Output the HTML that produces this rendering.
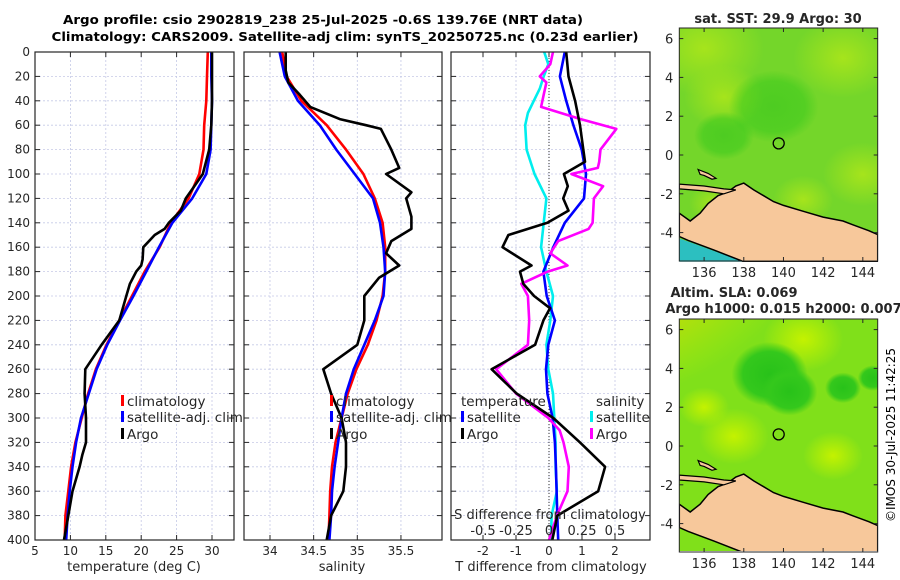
<!DOCTYPE html>
<html><head><meta charset="utf-8">
<style>
body{margin:0;background:#fff;}
svg{display:block;font-family:"DejaVu Sans","Liberation Sans",sans-serif;}
</style></head>
<body>
<svg id="fig" width="900" height="580" viewBox="0 0 900 580" xmlns="http://www.w3.org/2000/svg">
<defs>
<radialGradient id="orangeCorner" cx="0" cy="0" r="1">
<stop offset="0" stop-color="#f5a200"/><stop offset="0.45" stop-color="#f0d000"/><stop offset="1" stop-color="#c8f000" stop-opacity="0"/>
</radialGradient>
<radialGradient id="darkBlob" cx="0.5" cy="0.5" r="0.5">
<stop offset="0" stop-color="#28c21a"/><stop offset="0.7" stop-color="#34c81c"/><stop offset="1" stop-color="#34c81c" stop-opacity="0"/>
</radialGradient>
<radialGradient id="yellowBlob" cx="0.5" cy="0.5" r="0.5">
<stop offset="0" stop-color="#c4f200"/><stop offset="1" stop-color="#c4f200" stop-opacity="0"/>
</radialGradient>
<radialGradient id="lightBlob" cx="0.5" cy="0.5" r="0.5">
<stop offset="0" stop-color="#a6e41c"/><stop offset="1" stop-color="#a6e41c" stop-opacity="0"/>
</radialGradient>
<clipPath id="clipTop"><rect x="679" y="28" width="199" height="234"/></clipPath>
<clipPath id="clipBot"><rect x="679" y="319" width="199" height="232"/></clipPath>
</defs>
<g font-weight="bold" font-size="12.5" text-anchor="middle">
<text x="323" y="24" textLength="520" lengthAdjust="spacingAndGlyphs">Argo profile: csio 2902819_238 25-Jul-2025 -0.6S 139.76E (NRT data)</text>
<text x="345" y="41" textLength="587" lengthAdjust="spacingAndGlyphs">Climatology: CARS2009. Satellite-adj clim: synTS_20250725.nc (0.23d earlier)</text>
</g>
<g id="panels"></g>
<g id="maps"></g>
<text transform="translate(895,435) rotate(-90)" text-anchor="middle" font-size="12">©IMOS 30-Jul-2025 11:42:25</text>
</svg>
<script>
// ---- data (depth levels in m) ----
const depthT = [0,20,40,60,80,100,120,140,160,180,200,220,240,260,280,300,320,340,360,380,400];
const tempClim = [29.4,29.3,29.2,28.9,28.8,28.2,26.7,24.2,22.6,20.5,18.7,16.9,15.1,13.6,12.5,11.6,10.7,10.1,9.7,9.3,9.2];
const tempSat = [29.9,29.9,30.0,29.9,29.8,29.2,27.2,24.4,22.5,20.7,18.9,17.0,15.2,13.7,12.6,11.5,10.8,10.3,9.9,9.6,9.4];
const depthTArgo = [0,20,40,60,80,100,110,120,130,140,145,150,160,170,175,180,190,200,220,240,260,280,300,320,330,340,360,380,400];
const tempArgo = [30.0,30.0,30.0,29.9,29.6,28.7,27.5,26.3,25.6,23.9,23.3,21.9,20.3,20.2,20.0,19.3,18.4,17.9,16.9,14.4,12.1,12.0,12.2,12.2,11.7,11.3,10.3,9.7,9.1];
const salClim = [34.14,34.19,34.36,34.65,34.87,35.07,35.20,35.29,35.32,35.32,35.29,35.22,35.12,34.99,34.89,34.82,34.75,34.71,34.69,34.68,34.67];
const salSat = [34.11,34.17,34.32,34.57,34.76,34.97,35.18,35.26,35.30,35.32,35.30,35.20,35.08,34.96,34.87,34.82,34.78,34.74,34.71,34.70,34.68];
const depthSArgo = [0,15,25,35,45,55,60,63,80,95,100,115,120,135,145,155,165,175,185,200,220,240,260,280,300,320,340,360,380,400];
const salArgo = [34.18,34.18,34.21,34.34,34.46,34.80,35.10,35.27,35.39,35.48,35.33,35.62,35.56,35.62,35.62,35.39,35.33,35.48,35.25,35.08,35.08,35.00,34.61,34.70,34.82,34.87,34.87,34.84,34.70,34.65];
const dTSat = [0.48,0.33,0.52,0.74,0.99,1.12,1.06,0.48,0.13,-0.17,-0.07,0.18,-0.02,-0.09,-0.05,0.11,0.18,0.21,0.23,0.25,0.28];
const depthDTArgo = [0,20,40,60,80,90,100,110,120,130,140,150,160,175,180,190,200,210,220,240,260,280,300,320,340,360,380,400];
const dTArgo = [0.52,0.59,0.79,0.94,1.04,1.09,0.45,0.57,0.43,0.59,-0.05,-1.23,-1.41,-0.53,-0.88,-0.78,-0.45,0.03,-0.17,-0.42,-1.74,-0.98,0.13,0.94,1.70,1.49,0.25,0.10];
const depthDSSat = [0,10,20,30,40,50,60,80,100,120,140,160,180,200,220,240,260,280,300,320,340,360,380,400];
const dSSat = [-0.036,-0.005,-0.04,-0.07,-0.115,-0.16,-0.18,-0.17,-0.11,-0.02,-0.04,-0.06,-0.02,0.03,0.01,-0.02,-0.005,0.03,0.04,0.05,0.05,0.06,0.02,0.015];
const depthDSArgo = [0,10,20,25,35,45,55,63,80,90,95,100,110,120,140,145,155,165,175,180,190,200,220,240,260,280,300,310,320,340,360,380,400];
const dSArgo = [0.03,0.01,-0.07,-0.02,-0.04,-0.06,0.24,0.51,0.39,0.38,0.37,0.17,0.41,0.34,0.33,0.30,0.07,0.01,0.14,-0.01,-0.21,-0.16,-0.15,-0.16,-0.40,-0.25,-0.005,0.08,0.11,0.15,0.14,0.06,0.0];
const depthTicks = [0,20,40,60,80,100,120,140,160,180,200,220,240,260,280,300,320,340,360,380,400];
const tempTicks = [5,10,15,20,25,30];
const salTicks = [34,34.5,35,35.5];
const dTTicks = [-2,-1,0,1,2];
const dSTicks = [-0.5,-0.25,0,0.25,0.5];
const dSTickLabels = ['-0.5','-0.25','0','0.25','0.5'];
const argoLon = 139.76, argoLat = 0.6;
const lonTicks = [136,138,140,142,144];
const latTicks = [6,4,2,0,-2,-4];

const NS='http://www.w3.org/2000/svg';
function el(tag, attrs, parent){const e=document.createElementNS(NS,tag);for(const k in attrs)e.setAttribute(k,attrs[k]);parent.appendChild(e);return e;}
const Y0=52, Y1=540;
const yScale = d => Y0 + d/400*(Y1-Y0);
function mk(x0,x1,v0,v1){return v=>x0+(v-v0)/(v1-v0)*(x1-x0);}
const panels=document.getElementById('panels');

function panel(name,x0,x1,xs,ticks,ylabels){
  const g=el('g',{},panels);
  
  
  const grid=el('g',{stroke:'#c5c9e6','stroke-width':0.8,'stroke-dasharray':'2,2'},g);
  depthTicks.forEach(d=>{el('line',{x1:x0,x2:x1,y1:yScale(d),y2:yScale(d)},grid);});
  ticks.forEach(t=>{el('line',{x1:xs(t),x2:xs(t),y1:Y0,y2:Y1},grid);});
  const tk=el('g',{stroke:'#262626','stroke-width':1},g);
  depthTicks.forEach(d=>{el('line',{x1:x0,x2:x0+5,y1:yScale(d),y2:yScale(d)},tk);el('line',{x1:x1-5,x2:x1,y1:yScale(d),y2:yScale(d)},tk);});
  ticks.forEach(t=>{el('line',{x1:xs(t),x2:xs(t),y1:Y1,y2:Y1-5},tk);el('line',{x1:xs(t),x2:xs(t),y1:Y0,y2:Y0+5},tk);});
  if(ylabels){
    depthTicks.forEach(d=>{const t=el('text',{x:x0-5,y:yScale(d)+4,'text-anchor':'end','font-size':12,fill:'#262626'},g);t.textContent=d;
    
    });
  }
  return g;
}
function line(g,name,xs,xv,dv,color){
  const p=el('polyline',{points:xv.map((v,i)=>xs(v).toFixed(1)+','+yScale(dv[i]).toFixed(1)).join(' '),fill:'none',stroke:color,'stroke-width':2.6,'stroke-linejoin':'round'},g);
  
  
}
function txt(g,name,x,y,s,opts){const t=el('text',Object.assign({x:x,y:y,'font-size':12,fill:'#262626'},opts||{}),g);t.textContent=s;
  
  return t;}
function frame(g,x0,x1){el('rect',{x:x0,y:Y0,width:x1-x0,height:Y1-Y0,fill:'none',stroke:'#262626','stroke-width':1.2},g);}
function legendItem(g,name,x,y,color,label){
  const r=el('rect',{x:x,y:y-11,width:3,height:11,fill:color},g);
  
  
  txt(g,name,x+6,y,label,{'font-size':13.5});
}

// Panel 1 temperature
const xT=mk(35,212,5,30);
const g1=panel('temperature-panel',35,234,xT,tempTicks,true);
line(g1,'temp-climatology-line',xT,tempClim,depthT,'#ff0000');
line(g1,'temp-satellite-line',xT,tempSat,depthT,'#0000ff');
line(g1,'temp-argo-line',xT,tempArgo,depthTArgo,'#000000');
frame(g1,35,234);
tempTicks.forEach(t=>txt(g1,'temp-tick-label',xT(t),555,t,{'text-anchor':'middle'}));
txt(g1,'temp-axis-title',134,571,'temperature (deg C)',{'text-anchor':'middle','font-size':13});
legendItem(g1,'legend-climatology',121,406,'#ff0000','climatology');
legendItem(g1,'legend-satellite-adj',121,422,'#0000ff','satellite-adj. clim');
legendItem(g1,'legend-argo',121,439,'#000000','Argo');

// Panel 2 salinity
const xS=mk(270,357.3,34,35);
const g2=panel('salinity-panel',244,442,xS,salTicks,false);
line(g2,'sal-climatology-line',xS,salClim,depthT,'#ff0000');
line(g2,'sal-satellite-line',xS,salSat,depthT,'#0000ff');
line(g2,'sal-argo-line',xS,salArgo,depthSArgo,'#000000');
frame(g2,244,442);
salTicks.forEach(t=>txt(g2,'sal-tick-label',xS(t),555,t,{'text-anchor':'middle'}));
txt(g2,'sal-axis-title',342,571,'salinity',{'text-anchor':'middle','font-size':13});
legendItem(g2,'legend-climatology',330,406,'#ff0000','climatology');
legendItem(g2,'legend-satellite-adj',330,422,'#0000ff','satellite-adj. clim');
legendItem(g2,'legend-argo',330,439,'#000000','Argo');

// Panel 3 differences
const xD=mk(483,549,-2,0);
const xDS=v=>xD(v*4);
const g3=panel('difference-panel',451,650,xD,dTTicks,false);
el('line',{x1:xD(0),x2:xD(0),y1:Y0,y2:Y1,stroke:'#333','stroke-width':1,'stroke-dasharray':'1,2'},g3);
line(g3,'dS-satellite-line',xDS,dSSat,depthDSSat,'#00eeee');
line(g3,'dT-satellite-line',xD,dTSat,depthT,'#0000ff');
line(g3,'dS-argo-line',xDS,dSArgo,depthDSArgo,'#ff00ff');
line(g3,'dT-argo-line',xD,dTArgo,depthDTArgo,'#000000');
frame(g3,451,650);
dTTicks.forEach(t=>txt(g3,'dT-tick-label',xD(t),555,t,{'text-anchor':'middle'}));
txt(g3,'dT-axis-title',551,571,'T difference from climatology',{'text-anchor':'middle','font-size':13});
txt(g3,'dS-axis-title',550,519,'S difference from climatology',{'text-anchor':'middle','font-size':13});
dSTicks.forEach((t,i)=>txt(g3,'dS-tick-label',xDS(t),535,dSTickLabels[i],{'text-anchor':'middle','font-size':13}));
txt(g3,'legend-temperature-header',461,406,'temperature',{'font-size':13.5});
legendItem(g3,'legend-dT-satellite',461,422,'#0000ff','satellite');
legendItem(g3,'legend-dT-argo',461,439,'#000000','Argo');
txt(g3,'legend-salinity-header',596,406,'salinity',{'font-size':13.5});
legendItem(g3,'legend-dS-satellite',590,422,'#00eeee','satellite');
legendItem(g3,'legend-dS-argo',590,439,'#ff00ff','Argo');

// ---- maps ----
const maps=document.getElementById('maps');
const landPoly=[[134.75,-3.0],[135.3,-3.4],[135.8,-3.0],[136.2,-2.5],[136.7,-2.1],[137.2,-1.9],[137.6,-1.6],[138.0,-1.45],[138.5,-1.8],[139,-2.1],[139.5,-2.4],[140,-2.6],[141,-2.9],[142,-3.2],[143,-3.4],[143.5,-3.6],[144.3,-3.9],[144.75,-4.1],[144.75,-5.5],[138,-5.5],[136.5,-4.9],[135.2,-4.4],[134.75,-4.2]];
const island1=[[135.7,-0.75],[136.2,-0.95],[136.6,-1.2],[136.4,-1.25],[136.0,-1.05],[135.8,-1.0]];
const island2=[[134.75,-1.5],[136.0,-1.6],[137.0,-1.75],[137.6,-1.8],[137.0,-2.0],[136.0,-1.85],[134.75,-1.75]];
function mapPanel(name,top,title1,title2,isSLA){
  const L=679.3,R=877.7,T=top,B=top+233;
  const lx=mk(L,R,134.75,144.75), ly=v=>T+10.6+(6-v)*19.4;
  const g=el('g',{},maps);
  
  
  const c=el('g',{'clip-path':isSLA?'url(#clipBot)':'url(#clipTop)'},g);
  if(!isSLA){
    el('rect',{x:L,y:T,width:R-L,height:B-T,fill:'#74d62a'},c);
    [[136,5.5,60],[143,5,50],[144,-1,40],[137,3,40],[141,-2.3,30],[136.5,-2.5,25]].forEach(b=>el('ellipse',{cx:lx(b[0]),cy:ly(b[1]),rx:b[2],ry:b[2]*0.8,fill:'url(#lightBlob)'},c));
    [[139.5,2.5,45],[137,1,30]].forEach(b=>el('ellipse',{cx:lx(b[0]),cy:ly(b[1]),rx:b[2],ry:b[2]*0.8,fill:'url(#darkBlob)',opacity:0.5},c));
    el('polygon',{points:[[134.75,-4.3],[138,-5.5],[134.75,-5.5]].map(p=>lx(p[0])+','+ly(p[1])).join(' '),fill:'#2cbfc0'},c);
  } else {
    el('rect',{x:L,y:T,width:R-L,height:B-T,fill:'#80e01a'},c);
    el('ellipse',{cx:L,cy:T,rx:130,ry:90,fill:'url(#orangeCorner)'},c);
    [[137.5,0.5,35],[142.5,-0.5,30],[136,2,25],[141,5.5,40]].forEach(b=>el('ellipse',{cx:lx(b[0]),cy:ly(b[1]),rx:b[2],ry:b[2]*0.8,fill:'url(#yellowBlob)'},c));
    [[139.3,3.7,38],[140.3,2.8,28],[143,3,18],[144.5,3.5,15]].forEach(b=>el('ellipse',{cx:lx(b[0]),cy:ly(b[1]),rx:b[2],ry:b[2]*0.85,fill:'url(#darkBlob)'},c));
  }
  const pts=a=>a.map(p=>lx(p[0]).toFixed(1)+','+ly(p[1]).toFixed(1)).join(' ');
  const land=el('polygon',{points:pts(landPoly),fill:'#f7c89b',stroke:'#000','stroke-width':1.5},c);
  
  
  el('polygon',{points:pts(island1),fill:'#f7c89b',stroke:'#000','stroke-width':1.2},c);
  el('polygon',{points:pts(island2),fill:'#f7c89b',stroke:'#000','stroke-width':1.2},c);
  const circ=el('circle',{cx:lx(argoLon),cy:ly(argoLat),r:5.5,fill:'none',stroke:'#000','stroke-width':1.3},g);
  
  
  el('rect',{x:L,y:T,width:R-L,height:B-T,fill:'none',stroke:'#262626','stroke-width':1},g);
  const tk=el('g',{stroke:'#262626','stroke-width':1},g);
  lonTicks.forEach(v=>{el('line',{x1:lx(v),x2:lx(v),y1:B,y2:B-4},tk);el('line',{x1:lx(v),x2:lx(v),y1:T,y2:T+4},tk);
    txt(g,'lon-tick-label',lx(v),B+16,v,{'text-anchor':'middle','font-size':13});});
  latTicks.forEach(v=>{el('line',{x1:L,x2:L+4,y1:ly(v),y2:ly(v)},tk);el('line',{x1:R,x2:R-4,y1:ly(v),y2:ly(v)},tk);
    txt(g,'lat-tick-label',L-6,ly(v)+5,v,{'text-anchor':'end','font-size':13});});
  if(title2){
    txt(g,'map-title',734,T-22,title1,{'text-anchor':'middle','font-weight':'bold','font-size':13});
    txt(g,'map-subtitle',788,T-6,title2,{'text-anchor':'middle','font-weight':'bold','font-size':13});
  } else {
    txt(g,'map-title',778,T-5,title1,{'text-anchor':'middle','font-weight':'bold','font-size':13});
  }
}
mapPanel('sst-map',28,'sat. SST: 29.9 Argo: 30',null,false);
mapPanel('sla-map',319,'Altim. SLA: 0.069','Argo h1000: 0.015 h2000: 0.0071',true);
</script>
</body></html>
